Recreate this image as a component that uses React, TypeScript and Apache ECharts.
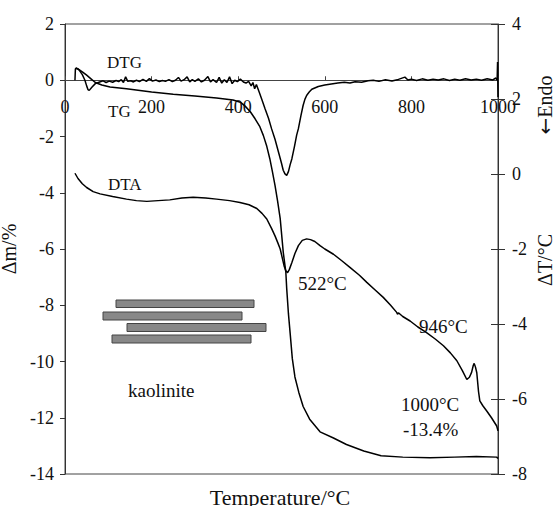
import React, { useEffect, useRef } from "react";
import * as echarts from "echarts";

const FONT = "'Liberation Serif', 'Times New Roman', serif";

// Temperature axis ticks
const tempTicks = [0, 200, 400, 600, 800, 1000];

// TG (mass change, %)
const tgTemp = [25, 30, 40, 50, 60, 70, 85, 104, 142, 200, 250, 300, 350, 388, 405, 416, 428, 439, 450, 458, 466, 473, 479, 485, 491, 497, 504, 510, 512, 516, 520, 525, 531, 540, 550, 565, 589, 620, 650, 690, 730, 780, 843, 900, 950, 997, 1000];
const tgMass = [0.42, 0.4, 0.3, 0.18, 0.05, -0.08, -0.17, -0.24, -0.3, -0.42, -0.5, -0.56, -0.63, -0.7, -0.78, -0.92, -1.12, -1.37, -1.65, -1.96, -2.35, -2.79, -3.25, -3.74, -4.3, -4.92, -6.11, -6.82, -7.4, -8.3, -9.0, -9.9, -10.55, -11.1, -11.6, -12.05, -12.5, -12.72, -12.95, -13.18, -13.35, -13.4, -13.42, -13.4, -13.38, -13.4, -13.45];

// DTG (left axis units)
const dtgTemp = [23, 24, 26, 32, 40, 46, 50, 53, 56, 62, 70, 80, 88, 95, 102, 110, 118, 124, 130, 135, 140, 145, 152, 158, 165, 172, 180, 188, 195, 202, 210, 218, 225, 232, 240, 248, 255, 262, 268, 275, 282, 288, 294, 300, 308, 315, 322, 330, 336, 342, 350, 356, 362, 368, 374, 380, 386, 392, 398, 405, 412, 418, 424, 430, 434, 438, 442, 448, 455, 462, 470, 477, 485, 493, 500, 504, 508, 512, 516, 520, 524, 530, 535, 539, 545, 550, 554, 558, 564, 570, 585, 600, 615, 630, 645, 658, 670, 685, 700, 712, 725, 740, 755, 770, 785, 792, 800, 812, 825, 838, 850, 862, 875, 888, 900, 912, 925, 938, 950, 962, 975, 988, 995, 998, 999, 1000];
const dtgValue = [0, 0.4, 0.44, 0.38, 0.2, 0.0, -0.2, -0.33, -0.36, -0.25, -0.12, -0.06, -0.02, -0.08, -0.03, -0.07, -0.01, -0.05, 0.02, -0.08, 0.12, -0.04, -0.02, -0.06, 0.0, -0.05, 0.03, -0.04, 0.06, -0.03, 0.01, -0.05, -0.01, -0.04, 0.02, -0.05, 0.0, 0.1, -0.03, 0.02, 0.12, -0.06, 0.02, -0.04, 0.05, -0.06, 0.0, 0.13, -0.06, 0.02, -0.08, 0.1, -0.1, 0.02, -0.08, 0.12, -0.12, 0.0, -0.05, 0.04, -0.06, -0.1, -0.04, -0.2, -0.08, -0.3, -0.15, -0.4, -0.7, -1.01, -1.35, -1.72, -2.1, -2.55, -2.95, -3.2, -3.33, -3.38, -3.25, -3.0, -2.79, -2.35, -1.95, -1.72, -1.25, -0.89, -0.68, -0.54, -0.42, -0.32, -0.22, -0.17, -0.13, -0.1, -0.07, -0.1, -0.05, -0.07, -0.02, 0.0, -0.04, 0.02, -0.03, 0.03, 0.11, 0.01, 0.04, -0.01, 0.05, 0.0, 0.04, 0.01, 0.05, -0.01, 0.04, 0.0, 0.05, 0.01, 0.04, 0.0, 0.05, 0.01, 0.08, 0.0, 0.65, -0.6];

// DTA (ΔT, °C, right axis)
const dtaTemp = [23, 30, 40, 50, 65, 81, 110, 142, 165, 189, 215, 242, 270, 296, 325, 350, 380, 404, 425, 443, 455, 466, 477, 485, 492, 497, 502, 506, 510, 514, 518, 524, 531, 539, 548, 558, 567, 577, 589, 600, 620, 640, 658, 680, 697, 715, 735, 752, 766, 768, 770, 780, 797, 815, 835, 855, 874, 890, 905, 918, 928, 934, 939, 943, 945, 948, 951, 955, 958, 965, 974, 985, 997, 1000];
const dtaValue = [0.02, -0.12, -0.26, -0.36, -0.47, -0.53, -0.6, -0.67, -0.71, -0.73, -0.71, -0.69, -0.64, -0.62, -0.64, -0.67, -0.71, -0.76, -0.82, -0.92, -1.05, -1.2, -1.45, -1.65, -1.85, -2.0, -2.25, -2.45, -2.58, -2.63, -2.55, -2.36, -2.12, -1.91, -1.77, -1.73, -1.75, -1.8, -1.91, -2.0, -2.14, -2.32, -2.49, -2.7, -2.89, -3.08, -3.29, -3.5, -3.69, -3.74, -3.7, -3.8, -3.92, -4.08, -4.23, -4.4, -4.58, -4.77, -4.98, -5.25, -5.48, -5.42, -5.29, -5.1, -5.05, -5.15, -5.3, -5.8, -6.05, -6.18, -6.32, -6.5, -6.72, -6.85];

const zip = (xs: number[], ys: number[]) => xs.map((x, i) => [x, ys[i]]);

const txt = (text: string, x: number, y: number, size: number, extra: any = {}) => ({
  type: "text",
  x,
  y,
  silent: true,
  ...extra,
  style: {
    text,
    fontFamily: FONT,
    fontSize: size,
    fill: "#111",
    align: extra.align || "left",
    verticalAlign: "middle",
    ...(extra.rich ? { rich: extra.rich } : {}),
  },
});

const GRID_TOP = 24;
const GRID_H = 450;
const LEFT_MIN = -14;
const LEFT_MAX = 2;
// distance from grid top to the zero line of the left axis
const zeroOffset = (LEFT_MAX / (LEFT_MAX - LEFT_MIN)) * GRID_H;

export default function App() {
  const ref = useRef<HTMLDivElement>(null);
  useEffect(() => {
    const chart = echarts.init(ref.current!, null, { renderer: "svg" });
    const lineStyle = { color: "#000", width: 1.5 };
    chart.setOption({
      animation: false,
      grid: {
        left: 65,
        right: 59,
        top: GRID_TOP,
        height: GRID_H,
        show: true,
        borderColor: "#444",
        borderWidth: 1,
        containLabel: false,
        outerBoundsMode: "none",
      },
      xAxis: {
        type: "value",
        position: "top",
        offset: -zeroOffset,
        min: tempTicks[0],
        max: tempTicks[tempTicks.length - 1],
        interval: 200,
        axisLine: { show: true, onZero: false, lineStyle: { color: "#444", width: 1 } },
        axisTick: { show: true, inside: false, length: 4, lineStyle: { color: "#444" } },
        axisLabel: { inside: true, fontFamily: FONT, fontSize: 18, color: "#111", margin: 18, formatter: (v: number) => String(v) },
        splitLine: { show: false },
      },
      yAxis: [
        {
          type: "value",
          min: LEFT_MIN,
          max: LEFT_MAX,
          interval: 2,
          position: "left",
          name: "Δm/%",
          nameLocation: "middle",
          nameGap: 45,
          nameTextStyle: { fontFamily: FONT, fontSize: 20, color: "#111" },
          axisLine: { show: true, lineStyle: { color: "#333" } },
          axisTick: { show: true, length: 5, lineStyle: { color: "#333" } },
          axisLabel: { fontFamily: FONT, fontSize: 18, color: "#111", margin: 11 },
          splitLine: { show: false },
        },
        {
          type: "value",
          min: -8,
          max: 4,
          interval: 2,
          position: "right",
          axisLine: { show: true, lineStyle: { color: "#333" } },
          axisTick: { show: true, length: 7, lineStyle: { color: "#333" } },
          axisLabel: { fontFamily: FONT, fontSize: 18, color: "#111", margin: 14 },
          splitLine: { show: false },
        },
        {
          type: "value",
          min: -8,
          max: 4,
          interval: 2,
          position: "right",
          axisLine: { show: false },
          axisTick: { show: true, inside: true, length: 7, lineStyle: { color: "#333" } },
          axisLabel: { show: false },
          splitLine: { show: false },
        },
      ],
      series: [
        { name: "TG", type: "line", yAxisIndex: 0, data: zip(tgTemp, tgMass), showSymbol: false, lineStyle, silent: true },
        { name: "DTG", type: "line", yAxisIndex: 0, data: zip(dtgTemp, dtgValue), showSymbol: false, lineStyle, silent: true },
        { name: "DTA", type: "line", yAxisIndex: 1, data: zip(dtaTemp, dtaValue), showSymbol: false, lineStyle, silent: true },
      ],
      graphic: [
        txt("DTG", 107, 62, 17),
        txt("TG", 108, 111, 17),
        txt("DTA", 108, 184, 17),
        txt("kaolinite", 128, 390, 19),
        txt("522°C", 298, 283, 19),
        txt("946°C", 419, 326, 19),
        txt("1000°C", 401, 404, 19),
        txt("-13.4%", 403, 429, 19),
        txt("Temperature/°C", 280, 497, 22, { align: "center" }),
        { ...txt("ΔT/°C", 545, 260, 20, { align: "center" }), rotation: Math.PI / 2 },
        {
          ...txt("{a|←}Endo", 545, 105, 20, {
            align: "center",
            rich: { a: { fontFamily: "'DejaVu Sans', sans-serif", fontSize: 20, fill: "#111" } },
          }),
          rotation: Math.PI / 2,
        },
        { type: "rect", silent: true, shape: { x: 116, y: 300, width: 138, height: 7.5 }, style: { fill: "#888", stroke: "#444", lineWidth: 1 } },
        { type: "rect", silent: true, shape: { x: 103, y: 312, width: 139, height: 8 }, style: { fill: "#888", stroke: "#444", lineWidth: 1 } },
        { type: "rect", silent: true, shape: { x: 127, y: 323.5, width: 139, height: 8 }, style: { fill: "#888", stroke: "#444", lineWidth: 1 } },
        { type: "rect", silent: true, shape: { x: 112, y: 335, width: 139, height: 8 }, style: { fill: "#888", stroke: "#444", lineWidth: 1 } },
      ],
    });
    return () => chart.dispose();
  }, []);
  return <div ref={ref} style={{ position: "absolute", left: 0, top: 0, width: 557, height: 506 }} />;
}
